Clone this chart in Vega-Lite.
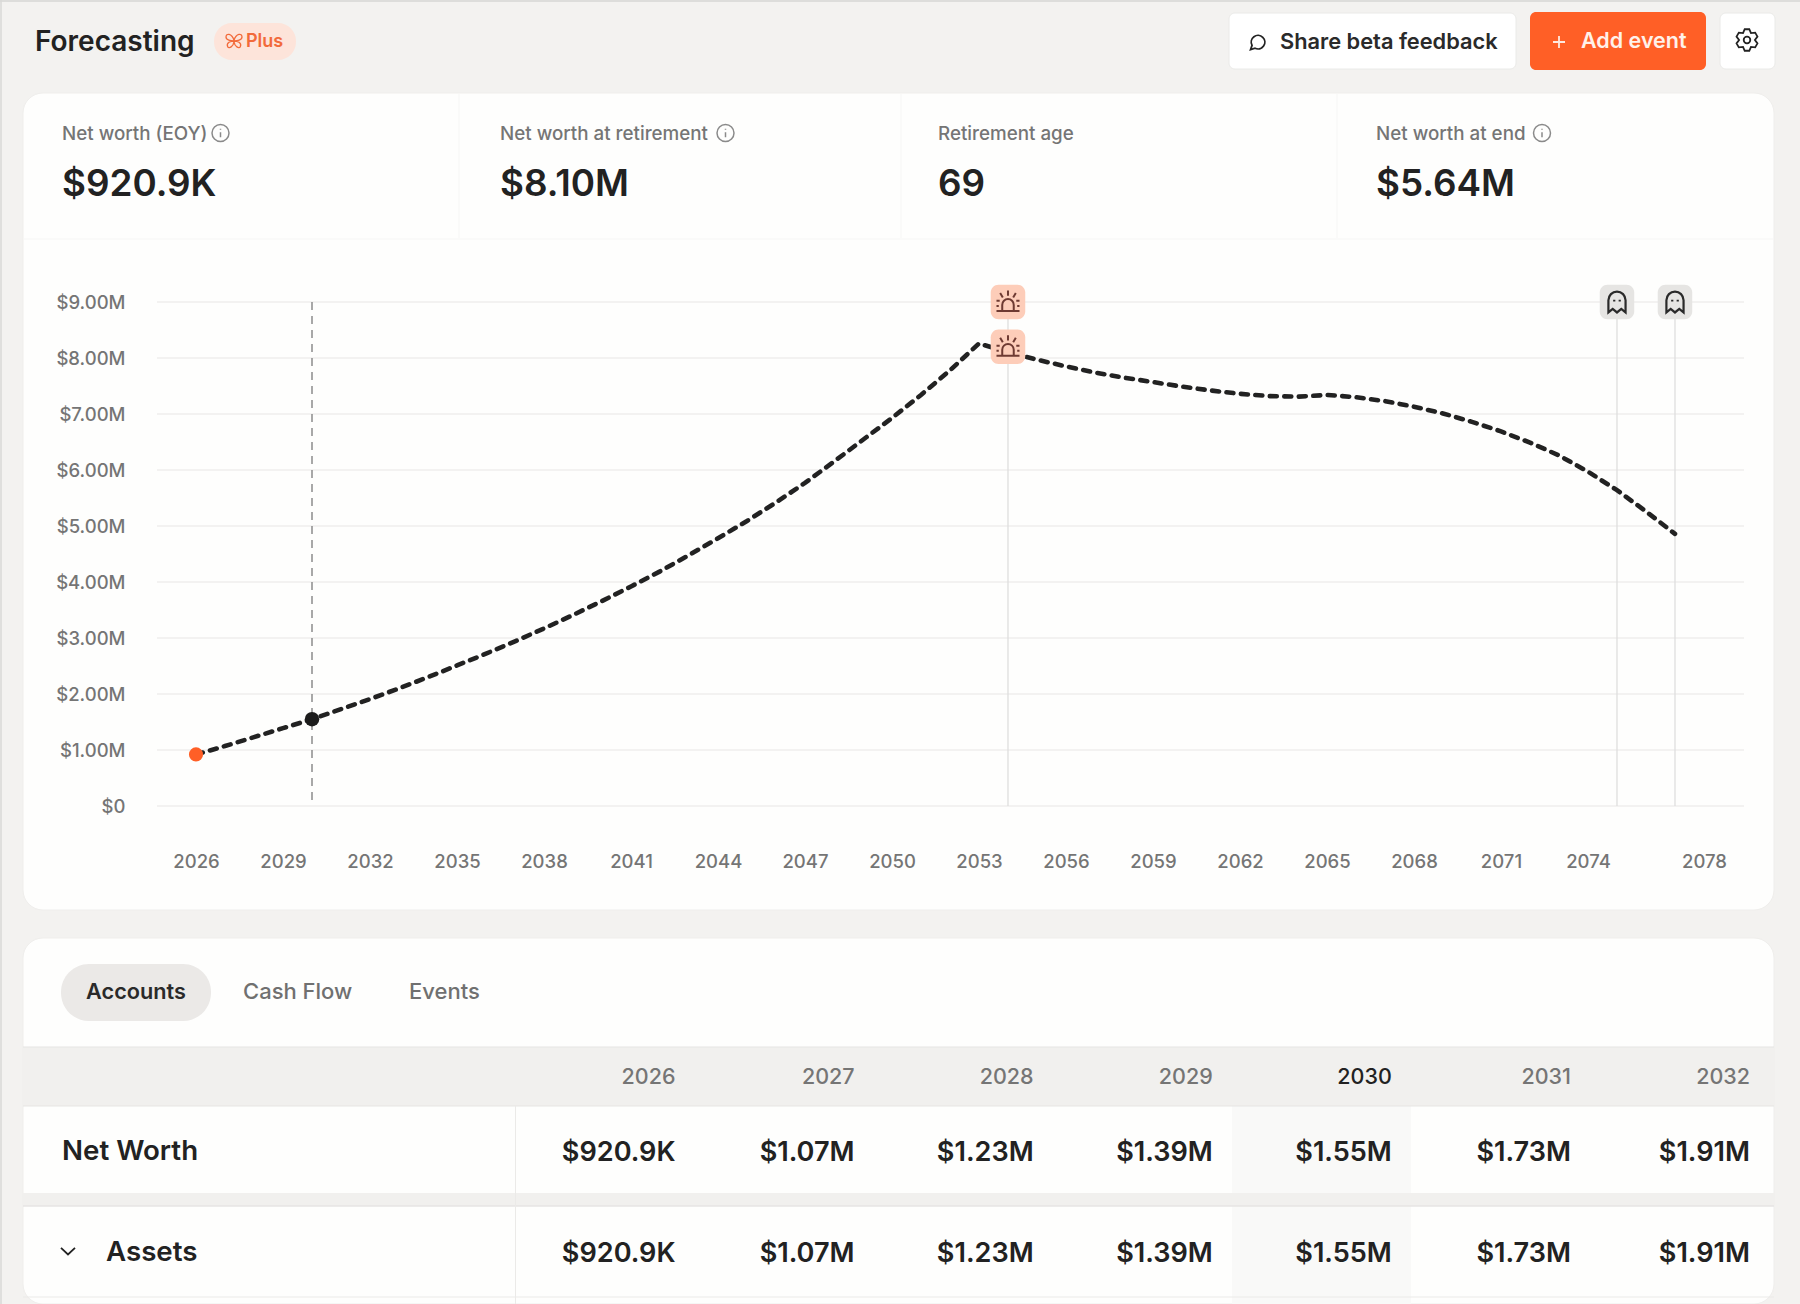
{
  "$schema": "https://vega.github.io/schema/vega-lite/v6.json",
  "description": "Forecasting screen: projected net worth by year with summary cards and accounts table",
  "width": 1800,
  "height": 1304,
  "autosize": {"type": "none"},
  "padding": 0,
  "background": "#f3f2f0",
  "config": {
    "view": {"stroke": null},
    "font": "Inter",
    "text": {"font": "Inter", "baseline": "middle"},
    "axis": {"domain": false, "ticks": false, "labels": false, "grid": false, "titleOpacity": 0}
  },
  "datasets": {
    "netWorth": [
      {"year": 2026, "value": 920900}, {"year": 2027, "value": 1070000}, {"year": 2028, "value": 1230000},
      {"year": 2029, "value": 1390000}, {"year": 2030, "value": 1550000}, {"year": 2031, "value": 1730000},
      {"year": 2032, "value": 1910000}, {"year": 2033, "value": 2100000}, {"year": 2034, "value": 2300000},
      {"year": 2035, "value": 2510000}, {"year": 2036, "value": 2720000}, {"year": 2037, "value": 2940000},
      {"year": 2038, "value": 3170000}, {"year": 2039, "value": 3410000}, {"year": 2040, "value": 3660000},
      {"year": 2041, "value": 3920000}, {"year": 2042, "value": 4190000}, {"year": 2043, "value": 4480000},
      {"year": 2044, "value": 4780000}, {"year": 2045, "value": 5090000}, {"year": 2046, "value": 5420000},
      {"year": 2047, "value": 5770000}, {"year": 2048, "value": 6150000}, {"year": 2049, "value": 6540000},
      {"year": 2050, "value": 6930000}, {"year": 2051, "value": 7340000}, {"year": 2052, "value": 7780000},
      {"year": 2053, "value": 8260000}, {"year": 2054, "value": 8100000}, {"year": 2055, "value": 7970000},
      {"year": 2056, "value": 7850000}, {"year": 2057, "value": 7740000}, {"year": 2058, "value": 7650000},
      {"year": 2059, "value": 7570000}, {"year": 2060, "value": 7490000}, {"year": 2061, "value": 7420000},
      {"year": 2062, "value": 7360000}, {"year": 2063, "value": 7320000}, {"year": 2064, "value": 7310000},
      {"year": 2065, "value": 7340000}, {"year": 2066, "value": 7300000}, {"year": 2067, "value": 7230000},
      {"year": 2068, "value": 7130000}, {"year": 2069, "value": 7010000}, {"year": 2070, "value": 6860000},
      {"year": 2071, "value": 6690000}, {"year": 2072, "value": 6490000}, {"year": 2073, "value": 6260000},
      {"year": 2074, "value": 5970000}, {"year": 2075, "value": 5640000}, {"year": 2076, "value": 5260000},
      {"year": 2077, "value": 4860000}
    ],
    "events": [
      {"year": 2054, "kind": "retirement", "value": 9000000},
      {"year": 2054, "kind": "retirement", "value": 8200000},
      {"year": 2075, "kind": "death", "value": 9000000},
      {"year": 2077, "kind": "death", "value": 9000000}
    ],
    "ticks": [
      {"tick": 0}, {"tick": 1000000}, {"tick": 2000000}, {"tick": 3000000}, {"tick": 4000000},
      {"tick": 5000000}, {"tick": 6000000}, {"tick": 7000000}, {"tick": 8000000}, {"tick": 9000000}
    ],
    "stats": [
      {"label": "Net worth (EOY)", "value": "$920.9K"},
      {"label": "Net worth at retirement", "value": "$8.10M"},
      {"label": "Retirement age", "value": "69"},
      {"label": "Net worth at end", "value": "$5.64M"}
    ],
    "table": [
      {"row": "Net Worth", "year": 2026, "text": "$920.9K"}, {"row": "Net Worth", "year": 2027, "text": "$1.07M"},
      {"row": "Net Worth", "year": 2028, "text": "$1.23M"}, {"row": "Net Worth", "year": 2029, "text": "$1.39M"},
      {"row": "Net Worth", "year": 2030, "text": "$1.55M"}, {"row": "Net Worth", "year": 2031, "text": "$1.73M"},
      {"row": "Net Worth", "year": 2032, "text": "$1.91M"},
      {"row": "Assets", "year": 2026, "text": "$920.9K"}, {"row": "Assets", "year": 2027, "text": "$1.07M"},
      {"row": "Assets", "year": 2028, "text": "$1.23M"}, {"row": "Assets", "year": 2029, "text": "$1.39M"},
      {"row": "Assets", "year": 2030, "text": "$1.55M"}, {"row": "Assets", "year": 2031, "text": "$1.73M"},
      {"row": "Assets", "year": 2032, "text": "$1.91M"}
    ],
    "years": [
      {"year": 2026}, {"year": 2027}, {"year": 2028}, {"year": 2029}, {"year": 2030}, {"year": 2031}, {"year": 2032}
    ]
  },
  "layer": [
    {
      "data": {"values": [{"screen": "Forecasting"}]},
      "layer": [
        {"mark": {"type": "rect", "fill": "#fefefd", "stroke": "#efeeec", "cornerRadius": 20},
         "encoding": {
           "x": {"datum": 23, "scale": {"domain": [0, 1800], "range": [0, 1800], "nice": false, "zero": false}},
           "x2": {"datum": 1774},
           "y": {"datum": 93, "scale": {"domain": [0, 1304], "range": [0, 1304], "nice": false, "zero": false}},
           "y2": {"datum": 910}}},
        {"mark": {"type": "rect", "fill": "#fefefd", "stroke": "#efeeec", "cornerRadius": 20},
         "encoding": {"x": {"datum": 23}, "x2": {"datum": 1774}, "y": {"datum": 938}, "y2": {"datum": 1304}}},
        {"mark": {"type": "rule", "stroke": "#d6d6d4", "strokeWidth": 1.5},
         "encoding": {"x": {"datum": 0}, "x2": {"datum": 1800}, "y": {"datum": 1}}},
        {"mark": {"type": "rule", "stroke": "#d9d9d7", "strokeWidth": 1.5},
         "encoding": {"x": {"datum": 1}, "y": {"datum": 0}, "y2": {"datum": 1304}}},
        {"mark": {"type": "rule", "stroke": "#fafaf9", "strokeWidth": 2},
         "encoding": {"x": {"datum": 459}, "y": {"datum": 94}, "y2": {"datum": 238}}},
        {"mark": {"type": "rule", "stroke": "#fafaf9", "strokeWidth": 2},
         "encoding": {"x": {"datum": 901}, "y": {"datum": 94}, "y2": {"datum": 238}}},
        {"mark": {"type": "rule", "stroke": "#fafaf9", "strokeWidth": 2},
         "encoding": {"x": {"datum": 1337}, "y": {"datum": 94}, "y2": {"datum": 238}}},
        {"mark": {"type": "rule", "stroke": "#fafaf9", "strokeWidth": 2},
         "encoding": {"x": {"datum": 24}, "x2": {"datum": 1773}, "y": {"datum": 239}}},

        {"mark": {"type": "text", "text": "Forecasting", "align": "left", "fontSize": 28, "fontWeight": 600, "color": "#222222"},
         "encoding": {"x": {"datum": 35}, "y": {"datum": 43}}},
        {"mark": {"type": "rect", "fill": "#fde4da", "cornerRadius": 18},
         "encoding": {"x": {"datum": 214}, "x2": {"datum": 296}, "y": {"datum": 23}, "y2": {"datum": 60}}},
        {"mark": {"type": "point", "shape": "M0,-.1C-.3,-1 -1,-1 -1,-.5C-1,-.1 -.4,0 0,0C-.4,0 -1,.2 -.8,.7C-.6,1 -.1,.7 0,.1C.1,.7 .6,1 .8,.7C1,.2 .4,0 0,0C.4,0 1,-.1 1,-.5C1,-1 .3,-1 0,-.1Z", "size": 256, "filled": false, "stroke": "#f26a3a", "strokeWidth": 1.3, "opacity": 1},
         "encoding": {"x": {"datum": 234}, "y": {"datum": 41}}},
        {"mark": {"type": "text", "text": "Plus", "align": "left", "fontSize": 18, "fontWeight": 600, "color": "#f26a3a"},
         "encoding": {"x": {"datum": 246}, "y": {"datum": 42}}},

        {"mark": {"type": "rect", "fill": "#ffffff", "stroke": "#eaeae8", "cornerRadius": 6},
         "encoding": {"x": {"datum": 1229}, "x2": {"datum": 1516}, "y": {"datum": 13}, "y2": {"datum": 69}}},
        {"mark": {"type": "point", "shape": "M-.8,.95L-.62,.42A.85,.85 0 1 1 -.25,.78Z", "size": 256, "filled": false, "stroke": "#222222", "strokeWidth": 1.8, "opacity": 1},
         "encoding": {"x": {"datum": 1257}, "y": {"datum": 42}}},
        {"mark": {"type": "text", "text": "Share beta feedback", "align": "left", "fontSize": 21.8, "fontWeight": 600, "color": "#2a2a2a"},
         "encoding": {"x": {"datum": 1280}, "y": {"datum": 42}}},
        {"mark": {"type": "rect", "fill": "#ff5f26", "cornerRadius": 6},
         "encoding": {"x": {"datum": 1530}, "x2": {"datum": 1706}, "y": {"datum": 12}, "y2": {"datum": 70}}},
        {"mark": {"type": "point", "shape": "M-1,0H1M0,-1V1", "size": 144, "filled": false, "stroke": "#ffe9df", "strokeWidth": 1.8, "opacity": 1},
         "encoding": {"x": {"datum": 1559}, "y": {"datum": 42}}},
        {"mark": {"type": "text", "text": "Add event", "align": "left", "fontSize": 21.5, "fontWeight": 600, "color": "#fff1ea"},
         "encoding": {"x": {"datum": 1581}, "y": {"datum": 42}}},
        {"mark": {"type": "rect", "fill": "#ffffff", "stroke": "#eaeae8", "cornerRadius": 6},
         "encoding": {"x": {"datum": 1720}, "x2": {"datum": 1775}, "y": {"datum": 13}, "y2": {"datum": 69}}},
        {"mark": {"type": "point", "shape": "M-.208,-.978L.208,-.978L.36,-.624L.743,-.669L.951,-.309L.72,0L.951,.309L.743,.669L.36,.624L.208,.978L-.208,.978L-.36,.624L-.743,.669L-.951,.309L-.72,0L-.951,-.309L-.743,-.669L-.36,-.624ZM.3,0A.3,.3 0 1 1 -.3,0A.3,.3 0 1 1 .3,0Z", "size": 484, "filled": false, "stroke": "#222222", "strokeWidth": 1.8, "opacity": 1},
         "encoding": {"x": {"datum": 1747}, "y": {"datum": 40}}},

        {"mark": {"type": "point", "shape": "M1,0A1,1 0 1 1 -1,0A1,1 0 1 1 1,0ZM0,-.1V.5M0,-.5V-.38", "size": 289, "filled": false, "stroke": "#8a8a8a", "strokeWidth": 1.5, "opacity": 1},
         "encoding": {"x": {"datum": 220.5}, "y": {"datum": 133}}},
        {"mark": {"type": "point", "shape": "M1,0A1,1 0 1 1 -1,0A1,1 0 1 1 1,0ZM0,-.1V.5M0,-.5V-.38", "size": 289, "filled": false, "stroke": "#8a8a8a", "strokeWidth": 1.5, "opacity": 1},
         "encoding": {"x": {"datum": 725.5}, "y": {"datum": 133}}},
        {"mark": {"type": "point", "shape": "M1,0A1,1 0 1 1 -1,0A1,1 0 1 1 1,0ZM0,-.1V.5M0,-.5V-.38", "size": 289, "filled": false, "stroke": "#8a8a8a", "strokeWidth": 1.5, "opacity": 1},
         "encoding": {"x": {"datum": 1542}, "y": {"datum": 133}}},

        {"mark": {"type": "rect", "fill": "#ebe9e7", "cornerRadius": 28},
         "encoding": {"x": {"datum": 61}, "x2": {"datum": 211}, "y": {"datum": 964}, "y2": {"datum": 1021}}},
        {"mark": {"type": "text", "text": "Accounts", "align": "center", "fontSize": 21.7, "fontWeight": 600, "color": "#2a2a2a"},
         "encoding": {"x": {"datum": 136}, "y": {"datum": 992}}},
        {"mark": {"type": "text", "text": "Cash Flow", "align": "left", "fontSize": 22, "fontWeight": 500, "color": "#707070"},
         "encoding": {"x": {"datum": 243}, "y": {"datum": 992}}},
        {"mark": {"type": "text", "text": "Events", "align": "left", "fontSize": 22, "fontWeight": 500, "color": "#707070"},
         "encoding": {"x": {"datum": 409}, "y": {"datum": 992}}},

        {"mark": {"type": "rect", "fill": "#f1f0ee"},
         "encoding": {"x": {"datum": 23}, "x2": {"datum": 1774}, "y": {"datum": 1047}, "y2": {"datum": 1106}}},
        {"mark": {"type": "rect", "fill": "#f9f9f8"},
         "encoding": {"x": {"datum": 1232}, "x2": {"datum": 1411}, "y": {"datum": 1106}, "y2": {"datum": 1304}}},
        {"mark": {"type": "rect", "fill": "#f1f0ee"},
         "encoding": {"x": {"datum": 23}, "x2": {"datum": 1774}, "y": {"datum": 1193}, "y2": {"datum": 1206}}},
        {"mark": {"type": "rule", "stroke": "#e6e5e3", "strokeWidth": 1},
         "encoding": {"x": {"datum": 23}, "x2": {"datum": 1774}, "y": {"datum": 1047}}},
        {"mark": {"type": "rule", "stroke": "#e6e5e3", "strokeWidth": 1},
         "encoding": {"x": {"datum": 23}, "x2": {"datum": 1774}, "y": {"datum": 1106}}},
        {"mark": {"type": "rule", "stroke": "#e6e5e3", "strokeWidth": 1.5},
         "encoding": {"x": {"datum": 23}, "x2": {"datum": 1774}, "y": {"datum": 1206}}},
        {"mark": {"type": "rule", "stroke": "#ebeae8", "strokeWidth": 1},
         "encoding": {"x": {"datum": 23}, "x2": {"datum": 1774}, "y": {"datum": 1297}}},
        {"mark": {"type": "rule", "stroke": "#ebeae8", "strokeWidth": 1},
         "encoding": {"x": {"datum": 515.5}, "y": {"datum": 1106}, "y2": {"datum": 1304}}},
        {"mark": {"type": "text", "text": "Net Worth", "align": "left", "fontSize": 27.7, "fontWeight": 600, "color": "#222222"},
         "encoding": {"x": {"datum": 62}, "y": {"datum": 1152}}},
        {"mark": {"type": "text", "text": "Assets", "align": "left", "fontSize": 27.7, "fontWeight": 600, "color": "#222222"},
         "encoding": {"x": {"datum": 106}, "y": {"datum": 1253}}},
        {"mark": {"type": "point", "shape": "M-1,-.45L0,.5L1,-.45", "size": 196, "filled": false, "stroke": "#222222", "strokeWidth": 1.8, "opacity": 1},
         "encoding": {"x": {"datum": 68}, "y": {"datum": 1251}}}
      ]
    },
    {
      "layer": [
        {"data": {"name": "ticks"},
         "mark": {"type": "rule", "stroke": "#efeeed", "strokeWidth": 1.5},
         "encoding": {
           "x": {"datum": 2024.655,
                 "scale": {"domain": [2024.655, 2079.38], "range": [157, 1744], "nice": false, "zero": false},
                 "axis": {"orient": "bottom", "offset": -498, "title": null, "values": [2026, 2029, 2032, 2035, 2038, 2041, 2044, 2047, 2050, 2053, 2056, 2059, 2062, 2065, 2068, 2071, 2074, 2078], "format": "d", "labels": true, "labelPadding": 55, "labelBaseline": "middle", "labelFontSize": 18.5, "labelFontWeight": 500, "labelColor": "#757575", "labelFont": "Inter", "labelOverlap": false, "labelFlush": false, "zindex": 1}},
           "x2": {"datum": 2079.38},
           "y": {"field": "tick", "type": "quantitative",
                 "scale": {"domain": [0, 9000000], "range": [806, 302], "nice": false, "zero": false},
                 "axis": {"orient": "left", "offset": -157, "title": null, "values": [0, 1000000, 2000000, 3000000, 4000000, 5000000, 6000000, 7000000, 8000000, 9000000], "labelExpr": "datum.value === 0 ? '$0' : '$' + format(datum.value / 1000000, '.2f') + 'M'", "labels": true, "labelPadding": 32, "labelFontSize": 18.5, "labelFontWeight": 500, "labelColor": "#757575", "labelFont": "Inter", "labelOverlap": false, "zindex": 1}}}},
        {"data": {"values": [{"year": 2030}]},
         "mark": {"type": "rule", "stroke": "#8c8c8c", "strokeWidth": 1.5, "strokeDash": [8, 6]},
         "encoding": {"x": {"field": "year", "type": "quantitative"}, "y": {"datum": 9000000}, "y2": {"datum": 0}}},
        {"data": {"name": "events"},
         "transform": [{"filter": "datum.value === 9000000"}],
         "mark": {"type": "rule", "stroke": "#dedede", "strokeWidth": 1.3},
         "encoding": {"x": {"field": "year", "type": "quantitative"}, "y": {"field": "value", "type": "quantitative"}, "y2": {"datum": 0}}},
        {"data": {"name": "netWorth"},
         "mark": {"type": "line", "interpolate": "linear", "stroke": "#222222", "strokeWidth": 4.6, "strokeDash": [7, 7.5], "strokeCap": "round"},
         "encoding": {"x": {"field": "year", "type": "quantitative"}, "y": {"field": "value", "type": "quantitative"}}},
        {"data": {"name": "netWorth"},
         "transform": [{"filter": "datum.year === 2026"}],
         "mark": {"type": "point", "filled": true, "size": 200, "fill": "#ff5f26", "opacity": 1},
         "encoding": {"x": {"field": "year", "type": "quantitative"}, "y": {"field": "value", "type": "quantitative"}}},
        {"data": {"name": "netWorth"},
         "transform": [{"filter": "datum.year === 2030"}],
         "mark": {"type": "point", "filled": true, "size": 210, "fill": "#1c1c1c", "opacity": 1},
         "encoding": {"x": {"field": "year", "type": "quantitative"}, "y": {"field": "value", "type": "quantitative"}}},
        {"data": {"name": "events"},
         "transform": [{"filter": "datum.kind === 'retirement'"}],
         "layer": [
           {"mark": {"type": "point", "shape": "M-.55,-1H.55A.45,.45 0 0 1 1,-.55V.55A.45,.45 0 0 1 .55,1H-.55A.45,.45 0 0 1 -1,.55V-.55A.45,.45 0 0 1 -.55,-1Z", "size": 1190, "filled": true, "fill": "#fdcdb9", "opacity": 1}},
           {"mark": {"type": "point", "shape": "M-1,.78H1M-.5,.78V.25A.5,.5 0 0 1 .5,.25V.78M0,-1V-.55M-.68,-.78L-.45,-.4M.68,-.78L.45,-.4M-1,-.1H-.72M.72,-.1H1M-1,.35H-.8M.8,.35H1", "size": 530, "filled": false, "stroke": "#6e3a32", "strokeWidth": 2, "opacity": 1}}
         ],
         "encoding": {"x": {"field": "year", "type": "quantitative"}, "y": {"field": "value", "type": "quantitative"}}},
        {"data": {"name": "events"},
         "transform": [{"filter": "datum.kind === 'death'"}],
         "layer": [
           {"mark": {"type": "point", "shape": "M-.55,-1H.55A.45,.45 0 0 1 1,-.55V.55A.45,.45 0 0 1 .55,1H-.55A.45,.45 0 0 1 -1,.55V-.55A.45,.45 0 0 1 -.55,-1Z", "size": 1190, "filled": true, "fill": "#e6e5e3", "opacity": 1}},
           {"mark": {"type": "point", "shape": "M-.78,.95V-.15A.78,.8 0 0 1 .78,-.15V.95L.39,.62L0,.95L-.39,.62ZM-.25,-.2V-.05M.25,-.2V-.05", "size": 484, "filled": false, "stroke": "#2a2a2a", "strokeWidth": 2.2, "opacity": 1}}
         ],
         "encoding": {"x": {"field": "year", "type": "quantitative"}, "y": {"field": "value", "type": "quantitative"}}}
      ]
    },
    {
      "data": {"name": "stats"},
      "encoding": {
        "x": {"field": "label", "type": "nominal", "axis": null,
              "scale": {"type": "point", "domain": ["Net worth (EOY)", "Net worth at retirement", "Retirement age", "Net worth at end"], "range": [62, 1376], "padding": 0}}
      },
      "layer": [
        {"mark": {"type": "text", "align": "left", "fontSize": 18.8, "fontWeight": 500, "color": "#757575"},
         "encoding": {
           "y": {"datum": 134, "axis": null, "scale": {"domain": [0, 1304], "range": [0, 1304], "nice": false, "zero": false}},
           "text": {"field": "label", "type": "nominal"}}},
        {"mark": {"type": "text", "align": "left", "fontSize": 36.8, "fontWeight": 600, "color": "#222222"},
         "encoding": {"y": {"datum": 184.5, "axis": null}, "text": {"field": "value", "type": "nominal"}}}
      ]
    },
    {
      "data": {"name": "years"},
      "mark": {"type": "text", "align": "right", "fontSize": 21.5, "fontWeight": 500},
      "encoding": {
        "x": {"field": "year", "type": "ordinal", "axis": null, "scale": {"type": "point", "domain": [2026, 2027, 2028, 2029, 2030, 2031, 2032], "range": [675.5, 1750], "padding": 0}},
        "y": {"datum": 1077.5, "axis": null, "scale": {"domain": [0, 1304], "range": [0, 1304], "nice": false, "zero": false}},
        "text": {"field": "year", "type": "ordinal"},
        "color": {"condition": {"test": "datum.year === 2030", "value": "#222222"}, "value": "#757575"}
      }
    },
    {
      "data": {"name": "table"},
      "mark": {"type": "text", "align": "right", "fontSize": 27.1, "fontWeight": 600, "color": "#222222"},
      "encoding": {
        "x": {"field": "year", "type": "ordinal", "axis": null, "scale": {"type": "point", "domain": [2026, 2027, 2028, 2029, 2030, 2031, 2032], "range": [675.5, 1750], "padding": 0}},
        "y": {"field": "row", "type": "nominal", "axis": null, "scale": {"type": "point", "domain": ["Net Worth", "Assets"], "range": [1152.5, 1253.5], "padding": 0}},
        "text": {"field": "text", "type": "nominal"}
      }
    }
  ],
  "resolve": {"scale": {"x": "independent", "y": "independent"}, "axis": {"x": "independent", "y": "independent"}}
}
